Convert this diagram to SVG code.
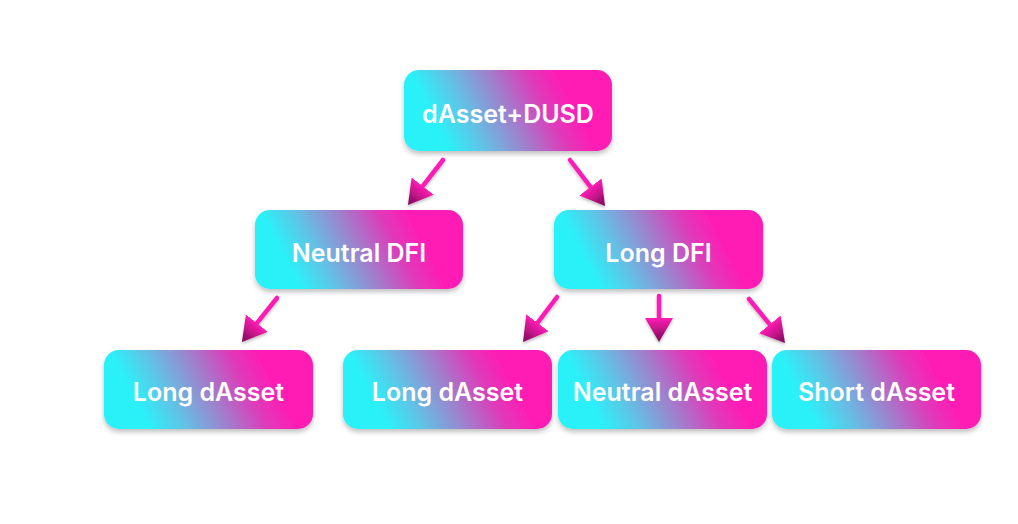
<svg xmlns="http://www.w3.org/2000/svg" width="1018" height="524" viewBox="0 0 1018 524">
<defs>
<linearGradient id="boxGrad" x1="0" y1="0.6" x2="1" y2="0.4">
<stop offset="0.14" stop-color="#2bf0f8"/>
<stop offset="0.3" stop-color="#62c2e6"/>
<stop offset="0.5" stop-color="#a07fcc"/>
<stop offset="0.68" stop-color="#de3bba"/>
<stop offset="0.82" stop-color="#ff1cb4"/>
</linearGradient>
<linearGradient id="headGrad" x1="0" y1="0" x2="1" y2="0">
<stop offset="0" stop-color="#ff1cb4"/>
<stop offset="1" stop-color="#7a0a55"/>
</linearGradient>
<filter id="shadow" x="-10%" y="-10%" width="120%" height="140%">
<feDropShadow dx="0" dy="3" stdDeviation="2.5" flood-color="#000" flood-opacity="0.25"/>
</filter>
<filter id="ashadow" x="-50%" y="-50%" width="200%" height="200%">
<feDropShadow dx="0" dy="2" stdDeviation="1.5" flood-color="#000" flood-opacity="0.25"/>
</filter>
<marker id="head" markerUnits="userSpaceOnUse" viewBox="0 0 24 28" refX="0" refY="14" markerWidth="24" markerHeight="28" orient="auto">
<path d="M0,0 L24,14 L0,28 Z" fill="url(#headGrad)"/>
</marker>
</defs>
<style>
.box{fill:url(#boxGrad);filter:url(#shadow)}
.lbl{font-family:Inter,"Noto Sans","Liberation Sans",sans-serif;font-weight:600;font-size:25px;fill:#ffffff;text-anchor:middle}
.conn line{stroke:#ff1cb4;stroke-width:4.5;stroke-linecap:round;marker-end:url(#head)}
</style>
<rect width="1018" height="524" fill="#ffffff"/>
<g id="connectors" class="conn" filter="url(#ashadow)">
<line x1="443" y1="160" x2="422.7" y2="186.1"/>
<line x1="570" y1="160" x2="590.5" y2="186.9"/>
<line x1="277" y1="298" x2="256.9" y2="323.2"/>
<line x1="557" y1="297" x2="537.5" y2="322.8"/>
<line x1="659" y1="296" x2="659" y2="318"/>
<line x1="749" y1="299" x2="769.8" y2="324.4"/>
</g>
<g id="node-root">
<rect class="box" x="404" y="70" width="208" height="81" rx="15"/>
<text class="lbl" x="508" y="123">dAsset+DUSD</text>
</g>
<g id="node-neutral-dfi">
<rect class="box" x="255" y="210" width="208" height="79" rx="15"/>
<text class="lbl" x="359" y="262">Neutral DFI</text>
</g>
<g id="node-long-dfi">
<rect class="box" x="554" y="210" width="209" height="79" rx="15"/>
<text class="lbl" x="658.5" y="262">Long DFI</text>
</g>
<g id="node-long-dasset-1">
<rect class="box" x="104" y="350" width="209" height="79" rx="15"/>
<text class="lbl" x="208.5" y="401">Long dAsset</text>
</g>
<g id="node-long-dasset-2">
<rect class="box" x="343" y="350" width="209" height="79" rx="15"/>
<text class="lbl" x="447.5" y="401">Long dAsset</text>
</g>
<g id="node-neutral-dasset">
<rect class="box" x="558" y="350" width="209" height="79" rx="15"/>
<text class="lbl" x="662.5" y="401">Neutral dAsset</text>
</g>
<g id="node-short-dasset">
<rect class="box" x="772" y="350" width="209" height="79" rx="15"/>
<text class="lbl" x="876.5" y="401">Short dAsset</text>
</g>
</svg>
